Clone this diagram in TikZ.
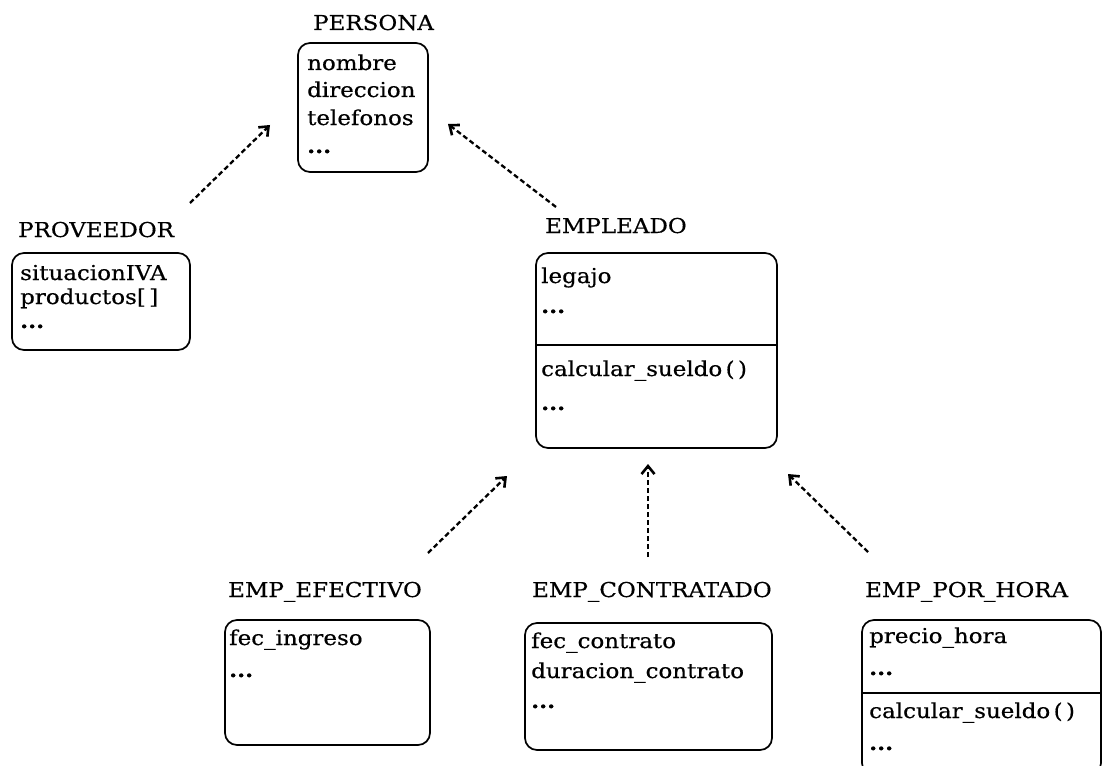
\documentclass[tikz,border=0pt]{standalone}
\usepackage{fontspec}
\setmainfont{DejaVu Serif}[FakeStretch=1.12,FakeBold=0.5]
\usetikzlibrary{arrows.meta}
\begin{document}
\begin{tikzpicture}[x=1pt,y=-1pt,
  classbox/.style={draw,line width=1.7pt,rounded corners=12pt},
  title/.style={anchor=base west,inner sep=0pt,font=\fontsize{20.5}{24}\selectfont},
  attr/.style={anchor=base west,inner sep=0pt,font=\fontsize{20.5}{24}\selectfont},
  inherit/.style={line width=2.3pt,dash pattern=on 5pt off 3pt,
    -{Straight Barb[length=8pt,width=13pt,line width=2.6pt]}}]
\useasboundingbox (0,0) rectangle (1102,765);
\clip (0,0) rectangle (1102,765);

% PERSONA
\node[title] (tPersona) at (313,30) {PERSONA};
\draw[classbox] (298,43) rectangle (428,172);
\node[attr] (p1) at (307,70) {nombre};
\node[attr] (p2) at (307,97) {direccion};
\node[attr] (p3) at (307,125) {telefonos};
\node[attr] (p4) at (307,153) {\textbf{...}};

% PROVEEDOR
\node[title] (tProv) at (18,237) {PROVEEDOR};
\draw[classbox] (12,253) rectangle (190,350);
\node[attr] (v1) at (20,280) {situacionIVA};
\node[attr] (v2) at (20,304) {productos[\,]};
\node[attr] (v3) at (20,328) {\textbf{...}};

% EMPLEADO
\node[title] (tEmp) at (545,233) {EMPLEADO};
\draw[classbox] (536,253) rectangle (777,448);
\draw[line width=1.7pt] (536,345) -- (777,345);
\node[attr] (e1) at (541,283) {legajo};
\node[attr] (e2) at (541,313) {\textbf{...}};
\node[attr] (e3) at (541,376) {calcular\_sueldo\,(\,)};
\node[attr] (e4) at (541,410) {\textbf{...}};

% EMP_EFECTIVO
\node[title] (tEfe) at (228,597) {EMP\_EFECTIVO};
\draw[classbox] (225,620) rectangle (430,745);
\node[attr] (f1) at (229,645) {fec\_ingreso};
\node[attr] (f2) at (229,677) {\textbf{...}};

% EMP_CONTRATADO
\node[title] (tCon) at (532,597) {EMP\_CONTRATADO};
\draw[classbox] (525,623) rectangle (772,750);
\node[attr] (c1) at (531,648) {fec\_contrato};
\node[attr] (c2) at (531,678) {duracion\_contrato};
\node[attr] (c3) at (531,708) {\textbf{...}};

% EMP_POR_HORA
\node[title] (tHor) at (865,597) {EMP\_POR\_HORA};
\draw[classbox] (862,620) rectangle (1101,775);
\draw[line width=1.7pt] (862,693) -- (1101,693);
\node[attr] (h1) at (869,643) {precio\_hora};
\node[attr] (h2) at (869,675) {\textbf{...}};
\node[attr] (h3) at (869,718) {calcular\_sueldo\,(\,)};
\node[attr] (h4) at (869,750) {\textbf{...}};

% inheritance arrows
\coordinate (a1s) at (190,203); \coordinate (a1e) at (270,125);
\coordinate (a2s) at (556,207); \coordinate (a2e) at (448,124);
\coordinate (a3s) at (428,553); \coordinate (a3e) at (507,476);
\coordinate (a4s) at (648,557); \coordinate (a4e) at (648,464);
\coordinate (a5s) at (868,552); \coordinate (a5e) at (788,474);
\draw[inherit] (a1s) -- (a1e);
\draw[inherit] (a2s) -- (a2e);
\draw[inherit] (a3s) -- (a3e);
\draw[inherit] (a4s) -- (a4e);
\draw[inherit] (a5s) -- (a5e);
\end{tikzpicture}
\end{document}
